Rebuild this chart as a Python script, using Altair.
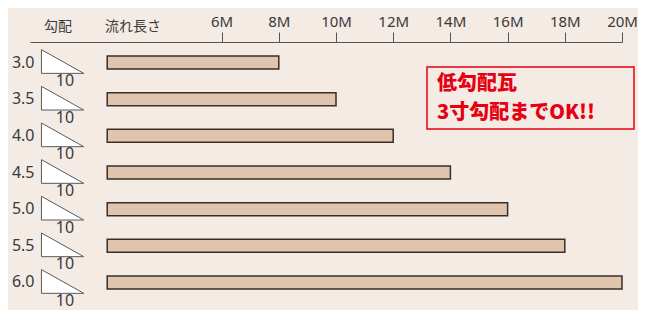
import altair as alt
import pandas as pd

# ---- data ----
slopes = ["3.0", "3.5", "4.0", "4.5", "5.0", "5.5", "6.0"]   # 勾配 (寸)
run_label = "10"                                              # base of slope triangle
length_start_m = 2                                            # bars start at 2M
lengths_m = [8, 10, 12, 14, 16, 18, 20]                       # 流れ長さ (M)
tick_values = [6, 8, 10, 12, 14, 16, 18, 20]
header_slope = "勾配"
header_length = "流れ長さ"
callout_lines = ["低勾配瓦", "3寸勾配までOK!!"]

BG = "#f4ebe5"
INK = "#3a3a3a"
RED = "#e60012"
FONT = "Noto Sans CJK JP"
NUMFONT = "Noto Sans"

df = pd.DataFrame({
    "slope": slopes,
    "start": [length_start_m] * len(slopes),
    "length": lengths_m,
    "run": [run_label] * len(slopes),
})

W, H = 592, 261
xscale = alt.Scale(domain=[-0.7, 20], nice=False, zero=False)
yscale = alt.Scale(domain=slopes, paddingInner=0, paddingOuter=0.06)

y_enc = alt.Y(
    "slope:N", scale=yscale, sort=slopes, title=None,
    axis=alt.Axis(orient="left", domain=False, ticks=False, tickSize=0,
                  labelPadding=0, offset=-4, labelFontSize=16,
                  labelColor=INK, labelFont=NUMFONT, labelBaseline="middle"),
)

base = alt.Chart(df)

bars = base.mark_bar(
    size=13, fill="#dfc4ae", stroke="#3a2e28", strokeWidth=1.5
).encode(
    x=alt.X("start:Q", scale=xscale, title=None,
            axis=alt.Axis(orient="top", values=tick_values,
                          labelExpr="datum.value + 'M'", tickSize=10,
                          labelPadding=3, grid=False, domainColor="#555555",
                          tickColor="#555555", domainWidth=1, tickWidth=1,
                          labelFlush=False, labelOverlap=False,
                          labelFontSize=15, labelColor=INK, labelFont=NUMFONT)),
    x2="length:Q",
    y=y_enc,
)

tri_path = "M-1,-0.56L1,0.56L-1,0.56Z"
triangles = base.mark_point(
    shape=tri_path, size=1789, filled=True, fill="white", stroke="#5a5a5a",
    strokeWidth=1, opacity=1, yOffset=-1
).encode(x=alt.value(32.6), y=alt.Y("slope:N", scale=yscale, sort=slopes))

runs = base.mark_text(
    fontSize=16, color=INK, font=NUMFONT, align="center", baseline="middle",
    yOffset=18.5
).encode(x=alt.value(35), y=alt.Y("slope:N", scale=yscale, sort=slopes),
         text="run:N")

hdr = alt.Chart(pd.DataFrame({"t": [header_slope]})).mark_text(
    fontSize=14, color=INK, font=FONT, align="center", baseline="middle"
).encode(x=alt.value(28), y=alt.value(-15), text="t:N")

hdr2 = alt.Chart(pd.DataFrame({"t": [header_length]})).mark_text(
    fontSize=14, color=INK, font=FONT, align="left", baseline="middle"
).encode(x=alt.value(75), y=alt.value(-15), text="t:N")

box = alt.Chart(pd.DataFrame({"k": [0]})).mark_rect(
    fill=BG, stroke=RED, strokeWidth=1.5
).encode(x=alt.value(397), x2=alt.value(604), y=alt.value(25), y2=alt.value(87))

callout1 = alt.Chart(pd.DataFrame({"t": [callout_lines[0]]})).mark_text(
    fontSize=20, fontWeight=900, color=RED, font=FONT, align="left",
    baseline="middle"
).encode(x=alt.value(407), y=alt.value(41.5), text="t:N")

callout2 = alt.Chart(pd.DataFrame({"t": [callout_lines[1]]})).mark_text(
    fontSize=20, fontWeight=900, color=RED, font=FONT, align="left",
    baseline="middle"
).encode(x=alt.value(407), y=alt.value(70.5), text="t:N")

chart = alt.layer(bars, triangles, runs, hdr, hdr2, box, callout1, callout2).properties(
    width=W, height=H,
    autosize=alt.AutoSizeParams(type="none"),
    padding={"left": 22, "top": 34, "right": 16, "bottom": 7},
    background=BG,
).configure_view(stroke=None)

chart.save("out.html", embed_options={"renderer": "svg", "actions": False})
